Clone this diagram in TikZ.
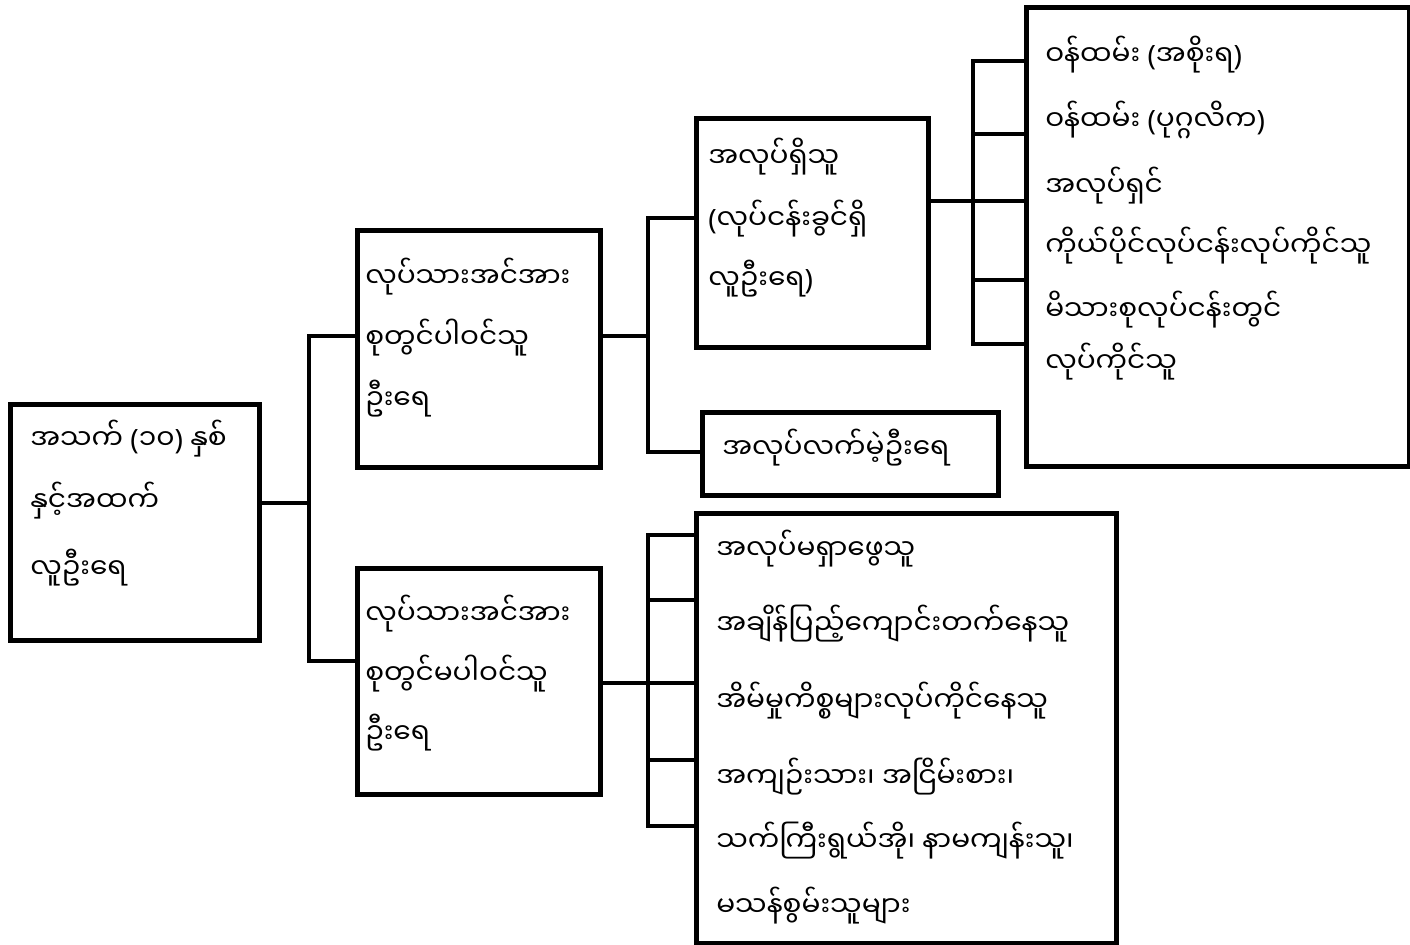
\documentclass[tikz,border=0pt]{standalone}
\usepackage{fontspec}
\newfontfamily\mmfont[Script=Myanmar]{Noto Sans Myanmar UI}
\newfontfamily\parfont{Noto Sans}
\newcommand{\lpar}{{\parfont (}}
\newcommand{\rpar}{{\parfont )}}
\newlength\px \setlength\px{0.75pt}
\begin{document}
\begin{tikzpicture}[x=0.75pt,y=-0.75pt,
  box/.style 2 args={draw, line width=3.6pt, anchor=north west, inner sep=0pt,
    minimum width=#1\px, minimum height=#2\px},
  link/.style={line width=3.6pt, line join=miter},
  txt/.style={anchor=base west, inner sep=0pt, font=\mmfont\fontsize{21}{25}\selectfont}]
\useasboundingbox (0,0) rectangle (1410,945);
% boxes
\node[box={249}{236}] (A) at (8,402) {};
\node[box={243}{237}] (B) at (355,228) {};
\node[box={243}{226}] (C) at (355,566) {};
\node[box={232}{229}] (D) at (694,116) {};
\node[box={296}{83}]  (E) at (700,410) {};
\node[box={383}{459}] (F) at (1024,5) {};
\node[box={420}{430}] (G) at (694,511) {};
% texts
\node[txt] (a1) at (30,449) {အသက် \lpar၁၀\rpar{} နှစ်};
\node[txt] (a2) at (30,511) {နှင့်အထက်};
\node[txt] (a3) at (30,578) {လူဦးရေ};
\node[txt] (b1) at (365,287) {လုပ်သားအင်အား};
\node[txt] (b2) at (365,348) {စုတွင်ပါဝင်သူ};
\node[txt] (b3) at (365,409) {ဦးရေ};
\node[txt] (c1) at (365,624) {လုပ်သားအင်အား};
\node[txt] (c2) at (365,684) {စုတွင်မပါဝင်သူ};
\node[txt] (c3) at (365,743) {ဦးရေ};
\node[txt] (d1) at (708,168) {အလုပ်ရှိသူ};
\node[txt] (d2) at (708,229) {\lpar{}လုပ်ငန်းခွင်ရှိ};
\node[txt] (d3) at (708,289) {လူဦးရေ\rpar};
\node[txt] (e1) at (722,458) {အလုပ်လက်မဲ့ဦးရေ};
\node[txt] (f1) at (1045,66) {ဝန်ထမ်း \lpar{}အစိုးရ\rpar};
\node[txt] (f2) at (1045,131) {ဝန်ထမ်း \lpar{}ပုဂ္ဂလိက\rpar};
\node[txt] (f3) at (1045,196) {အလုပ်ရှင်};
\node[txt] (f4) at (1045,257) {ကိုယ်ပိုင်လုပ်ငန်းလုပ်ကိုင်သူ};
\node[txt] (f5) at (1045,320) {မိသားစုလုပ်ငန်းတွင်};
\node[txt] (f6) at (1045,372) {လုပ်ကိုင်သူ};
\node[txt] (g1) at (716,559) {အလုပ်မရှာဖွေသူ};
\node[txt] (g2) at (716,634) {အချိန်ပြည့်ကျောင်းတက်နေသူ};
\node[txt] (g3) at (716,711) {အိမ်မှုကိစ္စများလုပ်ကိုင်နေသူ};
\node[txt] (g4) at (716,787) {အကျဉ်းသား၊ အငြိမ်းစား၊};
\node[txt] (g5) at (716,851) {သက်ကြီးရွယ်အို၊ နာမကျန်းသူ၊};
\node[txt] (g6) at (716,916) {မသန်စွမ်းသူများ};
% junction coordinates
\coordinate (jA) at (309,503);
\coordinate (jAt) at (309,336);
\coordinate (jAb) at (309,661);
\coordinate (jB) at (648,336);
\coordinate (jBt) at (648,218);
\coordinate (jBb) at (648,452);
\coordinate (jD) at (973,201);
\coordinate (jD1) at (973,61);
\coordinate (jD2) at (973,134);
\coordinate (jD4) at (973,280);
\coordinate (jD5) at (973,344);
\coordinate (jC) at (648,683);
\coordinate (jC1) at (648,535);
\coordinate (jC2) at (648,600);
\coordinate (jC4) at (648,760);
\coordinate (jC5) at (648,826);
% connectors
\draw[link] (A.east |- jA) -- (jA);
\draw[link] (B.west |- jAt) -- (jAt) -- (jAb) -- (C.west |- jAb);
\draw[link] (B.east |- jB) -- (jB);
\draw[link] (D.west |- jBt) -- (jBt) -- (jBb) -- (E.west |- jBb);
\draw[link] (D.east |- jD) -- (F.west |- jD);
\draw[link] (F.west |- jD1) -- (jD1) -- (jD5) -- (F.west |- jD5);
\draw[link] (jD2) -- (F.west |- jD2);
\draw[link] (jD4) -- (F.west |- jD4);
\draw[link] (C.east |- jC) -- (G.west |- jC);
\draw[link] (G.west |- jC1) -- (jC1) -- (jC5) -- (G.west |- jC5);
\draw[link] (jC2) -- (G.west |- jC2);
\draw[link] (jC4) -- (G.west |- jC4);
\end{tikzpicture}
\end{document}
